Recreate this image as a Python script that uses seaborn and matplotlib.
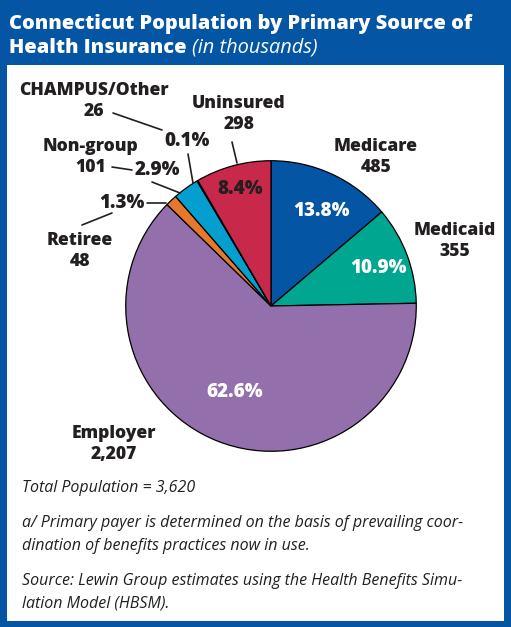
import matplotlib
matplotlib.use("Agg")
import matplotlib.pyplot as plt
import seaborn as sns
from matplotlib.patches import Rectangle
from matplotlib.lines import Line2D

sns.set_style("white")
plt.rcParams['font.family'] = ['Open Sans', 'DejaVu Sans']

# ---- data ----
categories = ["Medicare", "Medicaid", "Employer", "Retiree", "Non-group", "CHAMPUS/Other", "Uninsured"]
values_k = ["485", "355", "2,207", "48", "101", "26", "298"]
shares = [13.8, 10.9, 62.6, 1.3, 2.9, 0.1, 8.4]
colors = ["#0455A4", "#00A68F", "#9370AB", "#E5782C", "#059FCF", "#C8C8C8", "#C8294B"]

title_lines = ["Connecticut Population by Primary Source of", "Health Insurance "]
title_it = "(in thousands)"
note_lines = [("Total Population = 3,620", 492),
              ("a/ Primary payer is determined on the basis of prevailing coor-", 527),
              ("dination of benefits practices now in use.", 550),
              ("Source: Lewin Group estimates using the Health Benefits Simu-", 585),
              ("lation Model (HBSM).", 608)]

W, H = 511, 627
fig = plt.figure(figsize=(W/100, H/100), dpi=100)
fig.patch.set_facecolor("#0455A4")

def fx(x): return x / W
def fy(y): return 1 - y / H

# white panel
fig.add_artist(Rectangle((fx(7), fy(621)), fx(504) - fx(7), fy(65) - fy(621),
                         transform=fig.transFigure, facecolor="white", edgecolor="none", zorder=0))

# title
TFS = 14.4
fig.text(fx(9), fy(29), title_lines[0], color="white",
         fontsize=TFS, fontweight="heavy", va="baseline", ha="left")
t2 = fig.text(fx(9), fy(53), title_lines[1], color="white",
              fontsize=TFS, fontweight="heavy", va="baseline", ha="left")
fig.canvas.draw()
bb = t2.get_window_extent()
fig.text(bb.x1 / W, fy(53), title_it, color="white", fontsize=TFS, fontstyle="italic",
         va="baseline", ha="left")

# pie
cx, cy, r = 271, 306, 146
ax = fig.add_axes([fx(cx - r), fy(cy + r), 2 * r / W, 2 * r / H])
ax.pie(shares, colors=colors, startangle=90, counterclock=False, radius=1,
       wedgeprops=dict(edgecolor="black", linewidth=0.9))
ax.set_xlim(-1.005, 1.005)
ax.set_ylim(-1.005, 1.005)
ax.set_aspect("auto")
ax.axis("off")

dark = "#231F20"
FS = 12.6
PFS = 13.6
bold = dict(fontweight="heavy", fontsize=FS, color=dark, ha="center", va="center")
pbold = dict(fontweight="heavy", fontsize=PFS, color=dark, ha="center", va="center")
wbold = dict(fontweight="heavy", fontsize=PFS, color="white", ha="center", va="center")

# in-slice percentages
fig.text(fx(321), fy(211), f"{shares[0]}%", **wbold)
fig.text(fx(378), fy(268), f"{shares[1]}%", **wbold)
fig.text(fx(235), fy(392), f"{shares[2]}%", **wbold)
fig.text(fx(240), fy(189), f"{shares[6]}%", **pbold)

# category labels
def lab(x, y, i):
    fig.text(fx(x), fy(y), f"{categories[i]}\n{values_k[i]}", linespacing=1.3, **bold)

lab(376, 157, 0)
lab(455, 241, 1)
lab(114, 444, 2)
lab(80, 251, 3)
lab(91, 157, 4)
lab(94, 101, 5)
lab(239, 114, 6)

# outside percentages
fig.text(fx(187), fy(141), f"{shares[5]}%", **pbold)
fig.text(fx(157), fy(170), f"{shares[4]}%", **pbold)
fig.text(fx(122), fy(203), f"{shares[3]}%", **pbold)

# leader lines
def seg(x0, y0, x1, y1):
    fig.add_artist(Line2D([fx(x0), fx(x1)], [fy(y0), fy(y1)], transform=fig.transFigure,
                          color=dark, linewidth=1.2))

seg(113, 113, 162, 130)
seg(188, 154, 193, 183)
seg(232, 142, 237, 163)
seg(112, 167, 132, 170)
seg(152, 182, 180, 193)
seg(147, 203, 166, 203)
seg(112, 213, 82, 225)

# notes
note = dict(fontsize=11.5, fontstyle="italic", color=dark, ha="left", va="baseline")
for txt, y in note_lines:
    fig.text(fx(22), fy(y), txt, **note)

fig.savefig("out.png", dpi=100, facecolor=fig.get_facecolor())
